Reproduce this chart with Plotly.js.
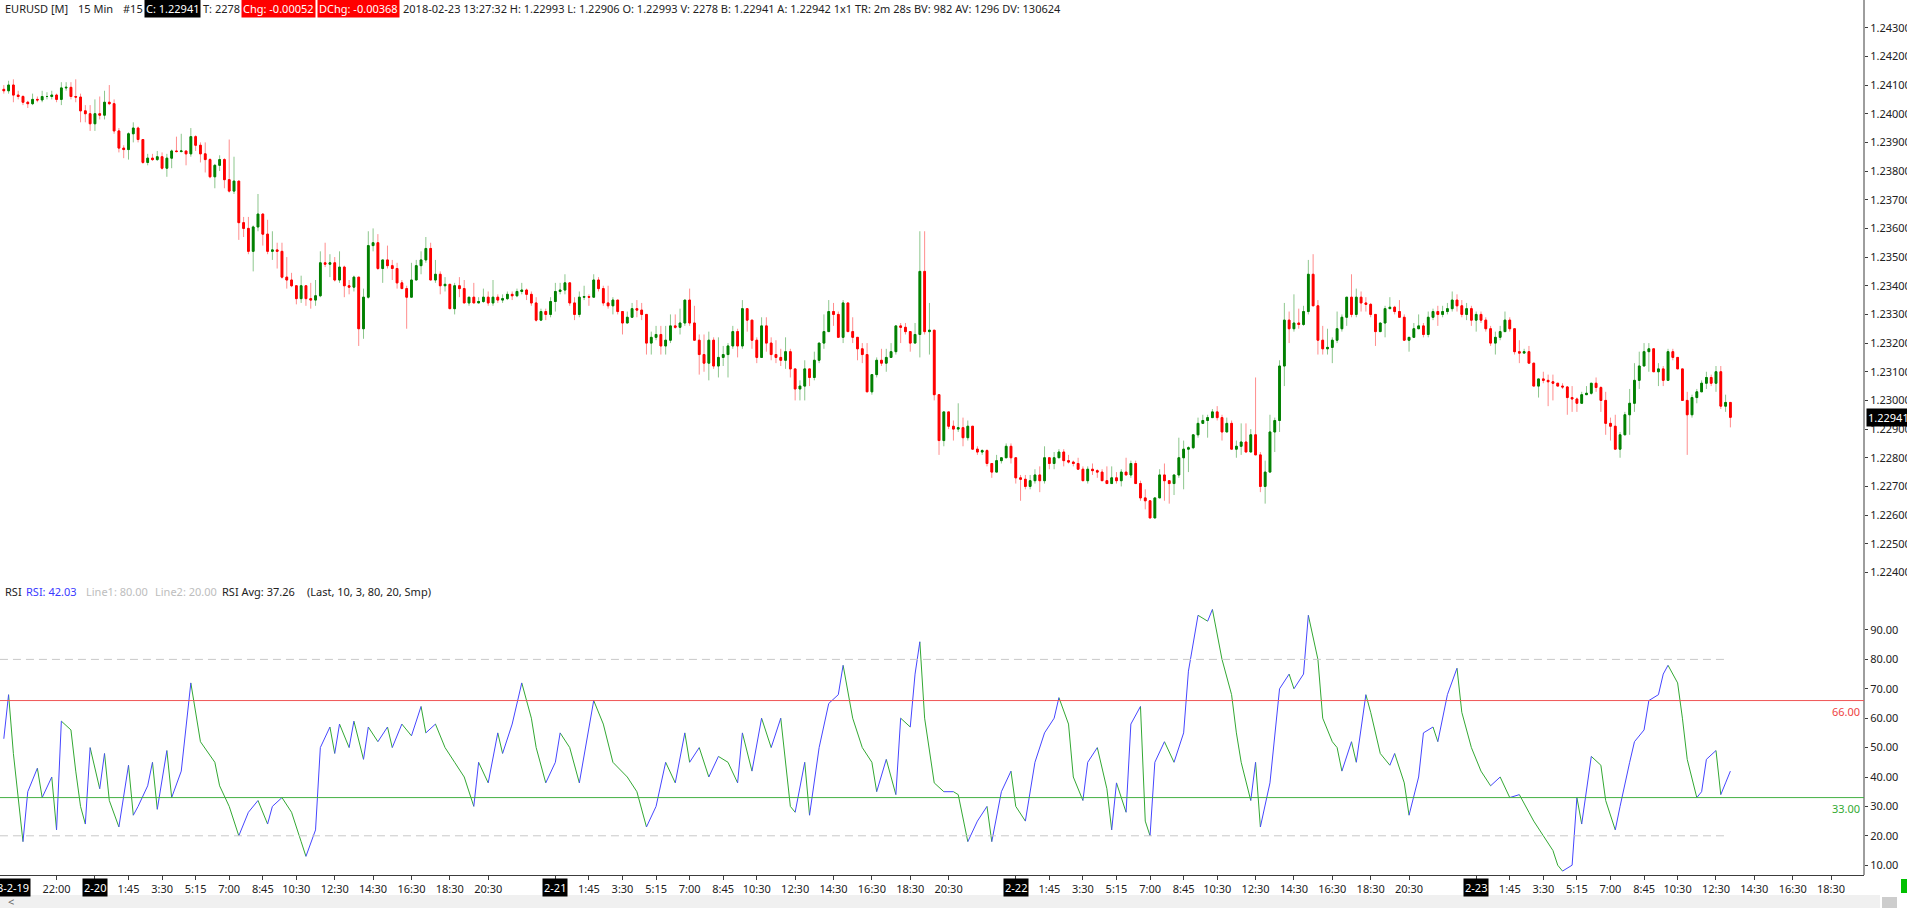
<!DOCTYPE html>
<html><head><meta charset="utf-8">
<script src="https://cdn.plot.ly/plotly-3.0.1.min.js"></script>
<style>html,body{margin:0;padding:0;background:#fff;overflow:hidden}#chart{width:1907px;height:908px}</style>
</head><body><div id="chart"></div>
<script>
// ---- DATA: EURUSD 15 min bars, first bar 2018-02-19 19:15 ----
const firstBar = {day: 19, h: 19, m: 15};
const open = [
1.24085,1.2408,1.2410,1.24065,1.2406,1.2404,1.24035,1.2405,1.24048,1.2406,
1.2406,1.24065,1.2405,1.2409,1.24092,1.2406,1.24058,1.2401,1.2400,1.23965,
1.2400,1.23995,1.2404,1.24035,1.2394,1.2388,1.23875,1.2393,1.2395,1.2391,
1.2383,1.23845,1.2384,1.2385,1.2381,1.23845,1.2387,1.23868,1.2387,1.2386,
1.2392,1.2389,1.2386,1.2384,1.2378,1.2382,1.2384,1.2377,1.2373,1.23765,
1.2362,1.2360,1.2352,1.23605,1.2365,1.2358,1.2352,1.23525,1.2352,1.2343,
1.2342,1.2340,1.23355,1.2340,1.23355,1.2335,1.23365,1.2348,1.23475,1.2348,
1.2342,1.23465,1.2340,1.23395,1.2343,1.2325,1.2336,1.2354,1.2355,1.2346,
1.2349,1.2347,1.2346,1.2341,1.2339,1.2336,1.2342,1.2347,1.2349,1.2353,
1.2342,1.2344,1.2340,1.23405,1.2332,1.2340,1.2339,1.2334,1.2336,1.2334,
1.23345,1.2336,1.2334,1.2336,1.2335,1.23355,1.2337,1.23365,1.2338,1.23385,
1.2337,1.2334,1.2328,1.2331,1.2330,1.23345,1.2338,1.23385,1.2341,1.2334,
1.2330,1.2336,1.23362,1.2336,1.2342,1.2339,1.2334,1.2333,1.2335,1.2331,
1.2327,1.2329,1.2332,1.23315,1.2330,1.2320,1.2322,1.2323,1.2319,1.2321,
1.2326,1.23255,1.2327,1.2335,1.2327,1.2321,1.2316,1.2313,1.2321,1.2312,
1.2315,1.2316,1.2319,1.2324,1.2319,1.2332,1.2328,1.2321,1.2315,1.2326,
1.2320,1.2316,1.2315,1.2314,1.2317,1.2311,1.2304,1.2305,1.2311,1.2308,
1.2314,1.2320,1.2324,1.2331,1.2330,1.2322,1.2334,1.2324,1.2322,1.2318,
1.2316,1.2303,1.2309,1.2314,1.2313,1.2315,1.2317,1.2326,1.23255,1.2324,
1.2320,1.2323,1.2345,1.2324,1.23245,1.2302,1.2286,1.2296,1.2291,1.2290,
1.22905,1.2287,1.2291,1.2283,1.2282,1.22825,1.2278,1.2275,1.2279,1.2280,
1.2284,1.2280,1.2273,1.22725,1.2270,1.2272,1.2274,1.2272,1.2280,1.2278,
1.2280,1.2282,1.2279,1.22785,1.2278,1.2276,1.2272,1.2276,1.22755,1.2275,
1.2272,1.2271,1.2273,1.2272,1.2275,1.2274,1.2278,1.2271,1.2266,1.2265,
1.2259,1.2266,1.2274,1.2272,1.2271,1.2274,1.2280,1.2283,1.22835,1.2288,
1.2292,1.2293,1.2294,1.2296,1.2294,1.2289,1.2292,1.2283,1.2284,1.22855,
1.2282,1.2288,1.2281,1.2270,1.2275,1.2289,1.2293,1.2312,1.2328,1.2325,
1.2327,1.23265,1.2331,1.2344,1.2333,1.2321,1.2318,1.23185,1.2321,1.2325,
1.2329,1.2336,1.2330,1.2336,1.2334,1.23335,1.2330,1.2324,1.2327,1.2332,
1.23325,1.2331,1.2329,1.2321,1.2322,1.2325,1.2326,1.2323,1.2329,1.2331,
1.2330,1.2331,1.2332,1.2335,1.2333,1.2330,1.2332,1.2328,1.2330,1.2328,
1.2325,1.2320,1.2322,1.2324,1.2328,1.2325,1.2317,1.23165,1.2317,1.2313,
1.2305,1.23075,1.2307,1.23065,1.2306,1.2305,1.23047,1.2301,1.23005,1.2299,
1.2302,1.23025,1.2306,1.23045,1.2300,1.2292,1.2291,1.2283,1.2288,1.2295,
1.2299,1.2307,1.2312,1.2317,1.2318,1.2310,1.2311,1.2307,1.2317,1.2315,
1.2311,1.2300,1.2295,1.2301,1.2303,1.2306,1.2308,1.2306,1.2310,1.2298,1.22993];
const high = [
1.2410,1.24115,1.2412,1.2408,1.24065,1.24045,1.2407,1.2406,1.2408,1.24075,
1.2408,1.2407,1.2411,1.2411,1.2411,1.2412,1.2407,1.2403,1.2403,1.2405,
1.2406,1.2408,1.2410,1.2405,1.2395,1.2389,1.23935,1.2397,1.23955,1.2391,
1.2386,1.2386,1.2387,1.23865,1.2386,1.23875,1.2392,1.2393,1.2387,1.2395,
1.23925,1.2390,1.2390,1.23845,1.23825,1.23855,1.23845,1.2391,1.2385,1.23765,
1.2364,1.2364,1.2361,1.2372,1.23652,1.2363,1.2359,1.2355,1.2355,1.2350,
1.23445,1.2340,1.23435,1.2340,1.2341,1.2342,1.2352,1.2355,1.2351,1.2350,
1.2352,1.2347,1.2342,1.23435,1.2343,1.2339,1.2359,1.2360,1.2358,1.2349,
1.2354,1.2349,1.2348,1.2342,1.2340,1.2348,1.2349,1.2352,1.2357,1.2355,
1.2349,1.2345,1.2343,1.23405,1.2341,1.2343,1.2342,1.2336,1.2341,1.2336,
1.2339,1.2338,1.2342,1.2337,1.2337,1.2338,1.2338,1.2339,1.2341,1.2339,
1.2338,1.2336,1.2332,1.2332,1.2336,1.2341,1.2341,1.2344,1.2341,1.2336,
1.2338,1.2340,1.2337,1.2344,1.2343,1.2340,1.2340,1.2336,1.2335,1.2331,
1.2331,1.2334,1.2335,1.2334,1.2330,1.2324,1.2326,1.2326,1.2326,1.2330,
1.2330,1.2332,1.2335,1.2339,1.2333,1.2323,1.2323,1.2324,1.2322,1.2322,
1.2319,1.2320,1.2326,1.2325,1.2335,1.2332,1.2328,1.2322,1.2329,1.2329,
1.2322,1.2321,1.2318,1.2322,1.2318,1.2311,1.2307,1.2314,1.2311,1.2317,
1.2320,1.2330,1.2335,1.2334,1.2331,1.2335,1.2334,1.2329,1.2322,1.2320,
1.2320,1.2309,1.2315,1.2318,1.2318,1.2320,1.2326,1.2327,1.2327,1.2324,
1.2327,1.2359,1.2359,1.2334,1.23245,1.2302,1.2296,1.2296,1.2293,1.2299,
1.2294,1.2293,1.2291,1.2284,1.2283,1.2283,1.2278,1.2281,1.2280,1.2285,
1.2285,1.2280,1.2274,1.2274,1.2274,1.2276,1.2277,1.2284,1.2280,1.2282,
1.2283,1.2283,1.2281,1.2279,1.2280,1.2277,1.2277,1.2278,1.2276,1.2276,
1.2277,1.2277,1.2275,1.2276,1.2280,1.2279,1.2279,1.2272,1.2269,1.2265,
1.2266,1.2276,1.2278,1.2272,1.2274,1.2287,1.2286,1.2284,1.2288,1.2294,
1.2295,1.2295,1.2297,1.2298,1.2295,1.2294,1.2293,1.2286,1.2292,1.2292,
1.2290,1.2308,1.2282,1.2279,1.2295,1.2294,1.2314,1.2334,1.2331,1.2337,
1.2332,1.2333,1.2349,1.2351,1.2335,1.2326,1.2325,1.2322,1.2331,1.2330,
1.2336,1.2344,1.2339,1.2338,1.2336,1.2334,1.2330,1.2327,1.2333,1.2336,
1.2333,1.2335,1.2330,1.2322,1.2327,1.2330,1.2327,1.2331,1.2332,1.2333,
1.2333,1.2334,1.2338,1.2337,1.2335,1.2334,1.2333,1.2331,1.2331,1.2329,
1.2326,1.2324,1.2326,1.2331,1.2329,1.2325,1.2321,1.2318,1.2319,1.2313,
1.23075,1.2310,1.2309,1.2309,1.2306,1.2306,1.2305,1.2305,1.2301,1.2303,
1.2305,1.2306,1.2308,1.2305,1.2303,1.2294,1.2295,1.2289,1.2296,1.2304,
1.2313,1.2317,1.2320,1.2320,1.2318,1.2313,1.2312,1.2318,1.2318,1.2315,
1.2311,1.2303,1.2302,1.2304,1.2307,1.2310,1.2309,1.2312,1.2312,1.2302,1.22993];
const low = [
1.2407,1.2407,1.2404,1.2405,1.2403,1.2402,1.2403,1.2404,1.2404,1.2405,
1.2405,1.2404,1.2403,1.2408,1.2405,1.2404,1.2397,1.2397,1.2394,1.2394,
1.2398,1.2398,1.2403,1.2393,1.23865,1.23845,1.2384,1.2390,1.2390,1.23825,
1.2382,1.23835,1.23835,1.23805,1.2378,1.2381,1.23865,1.23865,1.2382,1.2385,
1.2387,1.2383,1.23795,1.23775,1.2374,1.2380,1.2374,1.23725,1.2372,1.2356,
1.2357,1.2351,1.2345,1.2359,1.2354,1.2351,1.2349,1.2346,1.23425,1.2339,
1.23395,1.23335,1.2334,1.2333,1.2332,1.2333,1.2336,1.23465,1.2343,1.23415,
1.2341,1.2336,1.2337,1.2338,1.2319,1.23215,1.23355,1.2352,1.23455,1.2341,
1.2346,1.2342,1.2339,1.2339,1.2325,1.2336,1.2342,1.2344,1.2348,1.2342,
1.2341,1.2337,1.2338,1.2332,1.2330,1.2336,1.2334,1.2333,1.2334,1.2334,
1.2334,1.2333,1.2333,1.2334,1.2334,1.2335,1.2335,1.2336,1.2337,1.2335,
1.2333,1.23275,1.2328,1.2328,1.2329,1.2331,1.2337,1.2337,1.2333,1.2328,
1.2329,1.2335,1.2333,1.2336,1.2338,1.2333,1.2332,1.2330,1.2330,1.2323,
1.2327,1.2329,1.2329,1.2328,1.2316,1.2316,1.2321,1.2316,1.2316,1.2320,
1.2325,1.2323,1.2326,1.2326,1.2321,1.2309,1.2310,1.2307,1.2311,1.2308,
1.2312,1.2308,1.2318,1.2315,1.2318,1.2324,1.2318,1.2313,1.2315,1.2317,
1.2314,1.2313,1.2312,1.2311,1.2308,1.2300,1.2300,1.2300,1.2305,1.2307,
1.2313,1.2318,1.2324,1.2326,1.2322,1.2320,1.2324,1.2320,1.2314,1.2313,
1.2303,1.2302,1.2308,1.2312,1.2310,1.2315,1.2316,1.2320,1.2323,1.2317,
1.2320,1.2315,1.2323,1.2316,1.2300,1.2281,1.2284,1.2290,1.2286,1.2289,
1.2284,1.2286,1.2283,1.2281,1.2281,1.2277,1.2273,1.2275,1.2278,1.2280,
1.2278,1.2271,1.2265,1.2269,1.2269,1.2271,1.2268,1.2271,1.2276,1.2276,
1.2280,1.2277,1.2278,1.2277,1.2276,1.2272,1.2271,1.2274,1.2273,1.2272,
1.2271,1.2271,1.2271,1.2270,1.2274,1.2273,1.2271,1.2265,1.2262,1.2259,
1.2259,1.2266,1.2265,1.2264,1.2267,1.2273,1.2269,1.2275,1.2283,1.2287,
1.2292,1.2287,1.2294,1.2293,1.2286,1.2289,1.2283,1.2280,1.2281,1.2282,
1.2282,1.2281,1.2268,1.2264,1.2275,1.2282,1.2289,1.2305,1.2320,1.2324,
1.2325,1.2326,1.2330,1.2333,1.2316,1.2316,1.2316,1.2313,1.2320,1.2324,
1.2326,1.2329,1.2329,1.2331,1.2331,1.2329,1.2319,1.2324,1.2322,1.2332,
1.2330,1.2329,1.2321,1.2317,1.2322,1.2325,1.2322,1.2322,1.2328,1.2326,
1.2329,1.2330,1.2331,1.2331,1.2329,1.2328,1.2326,1.2324,1.2327,1.2324,
1.2319,1.2316,1.2321,1.2324,1.2324,1.2316,1.2313,1.23165,1.2313,1.2305,
1.2301,1.2306,1.2298,1.2300,1.2305,1.2304,1.2295,1.2296,1.2296,1.2299,
1.2302,1.2302,1.2303,1.2296,1.2288,1.2286,1.2283,1.2280,1.2288,1.2288,
1.2296,1.2304,1.2312,1.2310,1.2310,1.2305,1.2305,1.2307,1.2314,1.2311,
1.2300,1.2281,1.2294,1.2299,1.2303,1.2304,1.2305,1.2303,1.2297,1.2296,1.22906];
const close = [
1.2408,1.2410,1.24065,1.2406,1.2404,1.24035,1.2405,1.24048,1.2406,1.2406,
1.24065,1.2405,1.2409,1.24092,1.2406,1.24058,1.2401,1.2400,1.23965,1.2400,
1.23995,1.2404,1.24035,1.2394,1.2388,1.23875,1.2393,1.2395,1.2391,1.2383,
1.23845,1.2384,1.2385,1.2381,1.23845,1.2387,1.23868,1.2387,1.2386,1.2392,
1.2389,1.2386,1.2384,1.2378,1.2382,1.2384,1.2377,1.2373,1.23765,1.2362,
1.2360,1.2352,1.23605,1.2365,1.2358,1.2352,1.23525,1.2352,1.2343,1.2342,
1.2340,1.23355,1.2340,1.23355,1.2335,1.23365,1.2348,1.23475,1.2348,1.2342,
1.23465,1.2340,1.23395,1.2343,1.2325,1.2336,1.2354,1.2355,1.2346,1.2349,
1.2347,1.2346,1.2341,1.2339,1.2336,1.2342,1.2347,1.2349,1.2353,1.2342,
1.2344,1.2340,1.23405,1.2332,1.2340,1.2339,1.2334,1.2336,1.2334,1.23345,
1.2336,1.2334,1.2336,1.2335,1.23355,1.2337,1.23365,1.2338,1.23385,1.2337,
1.2334,1.2328,1.2331,1.2330,1.23345,1.2338,1.23385,1.2341,1.2334,1.2330,
1.2336,1.23362,1.2336,1.2342,1.2339,1.2334,1.2333,1.2335,1.2331,1.2327,
1.2329,1.2332,1.23315,1.2330,1.2320,1.2322,1.2323,1.2319,1.2321,1.2326,
1.23255,1.2327,1.2335,1.2327,1.2321,1.2316,1.2313,1.2321,1.2312,1.2315,
1.2316,1.2319,1.2324,1.2319,1.2332,1.2328,1.2321,1.2315,1.2326,1.2320,
1.2316,1.2315,1.2314,1.2317,1.2311,1.2304,1.2305,1.2311,1.2308,1.2314,
1.2320,1.2324,1.2331,1.2330,1.2322,1.2334,1.2324,1.2322,1.2318,1.2316,
1.2303,1.2309,1.2314,1.2313,1.2315,1.2317,1.2326,1.23255,1.2324,1.2320,
1.2323,1.2345,1.2324,1.23245,1.2302,1.2286,1.2296,1.2291,1.2290,1.22905,
1.2287,1.2291,1.2283,1.2282,1.22825,1.2278,1.2275,1.2279,1.2280,1.2284,
1.2280,1.2273,1.22725,1.2270,1.2272,1.2274,1.2272,1.2280,1.2278,1.2280,
1.2282,1.2279,1.22785,1.2278,1.2276,1.2272,1.2276,1.22755,1.2275,1.2272,
1.2271,1.2273,1.2272,1.2275,1.2274,1.2278,1.2271,1.2266,1.2265,1.2259,
1.2266,1.2274,1.2272,1.2271,1.2274,1.2280,1.2283,1.22835,1.2288,1.2292,
1.2293,1.2294,1.2296,1.2294,1.2289,1.2292,1.2283,1.2284,1.22855,1.2282,
1.2288,1.2281,1.2270,1.2275,1.2289,1.2293,1.2312,1.2328,1.2325,1.2327,
1.23265,1.2331,1.2344,1.2333,1.2321,1.2318,1.23185,1.2321,1.2325,1.2329,
1.2336,1.2330,1.2336,1.2334,1.23335,1.2330,1.2324,1.2327,1.2332,1.23325,
1.2331,1.2329,1.2321,1.2322,1.2325,1.2326,1.2323,1.2329,1.2331,1.2330,
1.2331,1.2332,1.2335,1.2333,1.2330,1.2332,1.2328,1.2330,1.2328,1.2325,
1.2320,1.2322,1.2324,1.2328,1.2325,1.2317,1.23165,1.2317,1.2313,1.2305,
1.23075,1.2307,1.23065,1.2306,1.2305,1.23047,1.2301,1.23005,1.2299,1.2302,
1.23025,1.2306,1.23045,1.2300,1.2292,1.2291,1.2283,1.2288,1.2295,1.2299,
1.2307,1.2312,1.2317,1.2318,1.2310,1.2311,1.2307,1.2317,1.2315,1.2311,
1.2300,1.2295,1.2301,1.2303,1.2306,1.2308,1.2306,1.2310,1.2298,1.22993,1.22941];

// RSI(10) readings (bar index, value)
const rsiBar = [0,1,2,4,5,7,8,10,11,12,14,15,16,17,18,20,21,22,24,26,27,28,30,31,32,34,35,37,39,41,44,45,47,49,51,53,55,56,58,60,62,63,65,66,68,69,70,72,73,75,76,78,80,81,83,85,87,88,90,92,94,96,98,99,101,103,104,106,108,110,111,113,115,116,118,120,123,125,127,130,132,134,136,138,140,142,143,145,147,149,151,153,154,156,158,160,162,164,165,167,168,170,172,174,175,177,179,181,182,184,186,187,189,190,191,192,194,196,198,199,201,203,205,206,208,210,211,213,215,217,219,220,222,223,225,226,228,230,231,232,234,235,237,238,239,240,242,244,246,247,249,251,252,254,256,257,258,260,261,262,264,266,268,269,271,272,274,275,277,278,279,281,282,284,285,287,289,290,292,293,295,296,298,299,301,303,304,306,308,310,312,314,316,318,319,321,323,324,325,327,328,329,331,333,334,336,337,339,340,342,343,345,346,347,349,350,351,353,354,355,357,358,359,360];
const rsiVal = [53,68,48,18,35,43,33,40,22,59,56,42,30,24,50,36,48,32,23,44,27,30,37,45,29,49,33,42,72,52,45,37,30,20,28,32,24,30,33,28,18,13,22,50,57,48,58,50,59,46,57,52,57,50,58,54,64,55,58,50,45,40,30,45,38,55,48,58,72,60,50,38,45,55,50,38,66,58,45,40,35,23,30,45,38,55,45,50,40,47,45,38,55,42,60,50,60,30,28,45,27,50,65,68,78,60,50,45,35,46,34,60,57,75,86,60,38,35,35,34,18,25,30,18,35,42,30,25,45,55,60,67,58,40,32,45,50,36,22,38,28,58,64,25,20,45,52,45,55,76,95,93,97,80,68,55,45,32,45,23,38,70,75,70,75,95,80,60,52,50,42,52,45,68,62,48,44,48,38,27,40,55,57,52,68,77,62,50,42,37,40,33,34,28,25,20,15,10,8,10,33,24,47,44,32,22,30,45,52,56,66,68,75,78,72,60,46,33,35,46,49,34,38,42];

const priceTicks = [1.224,1.225,1.226,1.227,1.228,1.229,1.230,1.231,1.232,1.233,1.234,1.235,1.236,1.237,1.238,1.239,1.240,1.241,1.242,1.243];
const rsiTicks = [10,20,30,40,50,60,70,80,90];
const rsiLevels = {upper: 66, lower: 33, line1: 80, line2: 20};
const dateTags = [['2018-2-19',19,'19:15'],['2-20',20,'0:00'],['2-21',21,'0:00'],['2-22',22,'0:00'],['2-23',23,'0:00']];
const timeTags = ['1:45','3:30','5:15','7:00','8:45','10:30','12:30','14:30','16:30','18:30','20:30'];
const extraTimeTags = [[19,'22:00']];
const lastPrice = 1.22941;

// ---- helpers ----
function barOf(day, hm){
  const [h,m] = hm.split(':').map(Number);
  const mins = (day-firstBar.day)*1440 + h*60 + m - (firstBar.h*60+firstBar.m);
  return mins/15;
}
const N = close.length;
const xs = close.map((_, i) => i);
const bodyHi = open.map((o,i)=>Math.max(o, close[i]));
const bodyLo = open.map((o,i)=>Math.min(o, close[i]));

const tickvals = [], ticktext = [];
extraTimeTags.forEach(([d,t]) => { tickvals.push(barOf(d,t)); ticktext.push(t); });
[20,21,22,23].forEach(d => {
  tickvals.push(barOf(d,'0:00')); ticktext.push('');
  timeTags.forEach(t => { tickvals.push(barOf(d,t)); ticktext.push(t); });
});

// RSI segments coloured by direction
const bx=[], by=[], gx=[], gy=[];
for (let k=0;k<rsiBar.length-1;k++){
  const up = rsiVal[k+1] >= rsiVal[k];
  const X = up?bx:gx, Y = up?by:gy;
  X.push(rsiBar[k], rsiBar[k+1], null); Y.push(rsiVal[k], rsiVal[k+1], null);
}

const W = 1907, H = 908, ML = 0, MR = 43, MT = 0, MB = 33;
const PW = W-ML-MR, PH = H-MT-MB;
const px = x => x/PW;             // pixel -> paper x
const py = y => (PH - y)/PH;      // pixel -> paper y

const traces = [
  {type:'candlestick', x:xs, open, high, low, close, xaxis:'x', yaxis:'y',
   increasing:{line:{color:'rgba(0,128,0,0.45)', width:1}, fillcolor:'rgba(0,128,0,0.45)'},
   decreasing:{line:{color:'rgba(255,0,0,0.45)', width:1}, fillcolor:'rgba(255,0,0,0.45)'},
   whiskerwidth:0, hoverinfo:'skip', showlegend:false},
  {type:'candlestick', x:xs, open, high:bodyHi, low:bodyLo, close, xaxis:'x', yaxis:'y',
   increasing:{line:{color:'#008000', width:1}, fillcolor:'#008000'},
   decreasing:{line:{color:'#ff0000', width:1}, fillcolor:'#ff0000'},
   whiskerwidth:0, hoverinfo:'skip', showlegend:false},
  {type:'scatter', mode:'lines', x:gx, y:gy, xaxis:'x', yaxis:'y2', line:{color:'#33a833', width:1}, hoverinfo:'skip', connectgaps:false},
  {type:'scatter', mode:'lines', x:bx, y:by, xaxis:'x', yaxis:'y2', line:{color:'#4646ff', width:1}, hoverinfo:'skip', connectgaps:false}
];

const FONT = '"Noto Sans", "Open Sans", Arial, sans-serif';
function ann(text, xpix, ypix, color, bg, extra){
  return Object.assign({text, xref:'paper', yref:'paper', x:px(xpix), y:py(ypix), xanchor:'left', yanchor:'middle',
    showarrow:false, font:{family:FONT, size:11, color:color||'#222'}, bgcolor:bg||'rgba(0,0,0,0)', borderpad:1}, extra||{});
}
const annotations = [
  ann('EURUSD [M]', 3, 8.5), ann('15 Min', 76, 8.5), ann('#15', 121, 8.5),
  ann('C: 1.22941', 144, 8.5, '#fff', '#000'),
  ann('T: 2278', 201, 8.5),
  ann('Chg: -0.00052', 241, 8.5, '#fff', '#ff0000'),
  ann('DChg: -0.00368', 317, 8.5, '#fff', '#ff0000'),
  ann('2018-02-23 13:27:32 H: 1.22993 L: 1.22906 O: 1.22993 V: 2278 B: 1.22941 A: 1.22942 1x1 TR: 2m 28s BV: 982 AV: 1296 DV: 130624', 401, 8.5),
  ann('RSI', 3, 591), ann('RSI: 42.03', 24, 591, '#3a3aff'), ann('Line1: 80.00', 84, 591, '#bdbdbd'),
  ann('Line2: 20.00', 153, 591, '#bdbdbd'), ann('RSI Avg: 37.26', 220, 591), ann('(Last, 10, 3, 80, 20, Smp)', 305, 591),
  {text:'66.00', xref:'paper', yref:'y2', x:px(1862), y:rsiLevels.upper, xanchor:'right', yanchor:'top', yshift:-1, showarrow:false, font:{family:FONT,size:11,color:'#ee4444'}},
  {text:'33.00', xref:'paper', yref:'y2', x:px(1862), y:rsiLevels.lower, xanchor:'right', yanchor:'top', yshift:-1, showarrow:false, font:{family:FONT,size:11,color:'#33aa33'}},
  {text:lastPrice.toFixed(5), xref:'paper', yref:'y', x:1, y:lastPrice, xanchor:'left', yanchor:'middle', xshift:2, showarrow:false, bgcolor:'#000', borderpad:1, font:{family:FONT,size:11,color:'#fff'}},
  ann('&lt;', 6, 901, '#666')
];
dateTags.forEach(([lab,d,t]) => annotations.push({text:lab, xref:'x', yref:'paper', x:barOf(d,t), y:py(887), xanchor:'center', yanchor:'middle', showarrow:false, bgcolor:'#000', borderpad:1, font:{family:FONT,size:11,color:'#fff'}}));

const shapes = [
  {type:'line', xref:'paper', yref:'paper', x0:1, x1:1, y0:0, y1:1, line:{color:'#3c3c3c', width:1}},
  {type:'line', xref:'paper', yref:'y2', x0:0, x1:1, y0:rsiLevels.upper, y1:rsiLevels.upper, line:{color:'#f05555', width:1}},
  {type:'line', xref:'paper', yref:'y2', x0:0, x1:1, y0:rsiLevels.lower, y1:rsiLevels.lower, line:{color:'#44b044', width:1}},
  {type:'line', xref:'x', yref:'y2', x0:-0.8, x1:N-1.5, y0:rsiLevels.line1, y1:rsiLevels.line1, line:{color:'#c8c8c8', width:1, dash:'8px,5px'}},
  {type:'line', xref:'x', yref:'y2', x0:-0.8, x1:N-1.5, y0:rsiLevels.line2, y1:rsiLevels.line2, line:{color:'#c8c8c8', width:1, dash:'8px,5px'}},
  {type:'rect', xref:'paper', yref:'paper', x0:0, x1:px(1880), y0:py(908), y1:py(895), line:{width:0}, fillcolor:'#f0f0f0', layer:'below'},
  {type:'rect', xref:'paper', yref:'paper', x0:px(1882), x1:px(1897), y0:py(908), y1:py(897), line:{width:0}, fillcolor:'#cdcdcd'},
  {type:'rect', xref:'paper', yref:'paper', x0:px(1901), x1:px(1907), y0:py(893), y1:py(879), line:{width:0}, fillcolor:'#00c000'}
];

const axisFont = {family:FONT, size:11, color:'#222'};
const layout = {
  width:W, height:H, margin:{l:ML, r:MR, t:MT, b:MB, pad:0},
  paper_bgcolor:'#fff', plot_bgcolor:'#fff', showlegend:false, boxgap:0.48,
  font:{family:FONT, size:11, color:'#222'},
  xaxis:{range:[-0.792, 387.86], anchor:'y2', rangeslider:{visible:false}, showgrid:false, zeroline:false,
         showline:true, linecolor:'#3c3c3c', linewidth:1, ticks:'outside', ticklen:4, tickcolor:'#3c3c3c',
         tickvals, ticktext, tickfont:axisFont, tickangle:0, fixedrange:true},
  yaxis:{domain:[py(590),1], range:[1.2233876,1.2439662], side:'right', showgrid:false, zeroline:false, showline:false,
         ticks:'outside', ticklen:3, tickcolor:'#3c3c3c', tickvals:priceTicks, tickformat:'.5f', tickfont:axisFont, fixedrange:true},
  yaxis2:{domain:[0,py(595)], range:[6.667,101.9], side:'right', showgrid:false, zeroline:false, showline:false,
         ticks:'outside', ticklen:3, tickcolor:'#3c3c3c', tickvals:rsiTicks, tickformat:'.2f', tickfont:axisFont, fixedrange:true},
  shapes, annotations, hovermode:false
};
if ([open,high,low].some(a => a.length !== N)) {
  layout.annotations.push({text:'LEN MISMATCH '+[open.length,high.length,low.length,N].join(','), xref:'paper', yref:'paper', x:0.5, y:0.5, showarrow:false, font:{size:30,color:'magenta'}});
}
Plotly.newPlot('chart', traces, layout, {staticPlot:true, displayModeBar:false});
</script></body></html>
